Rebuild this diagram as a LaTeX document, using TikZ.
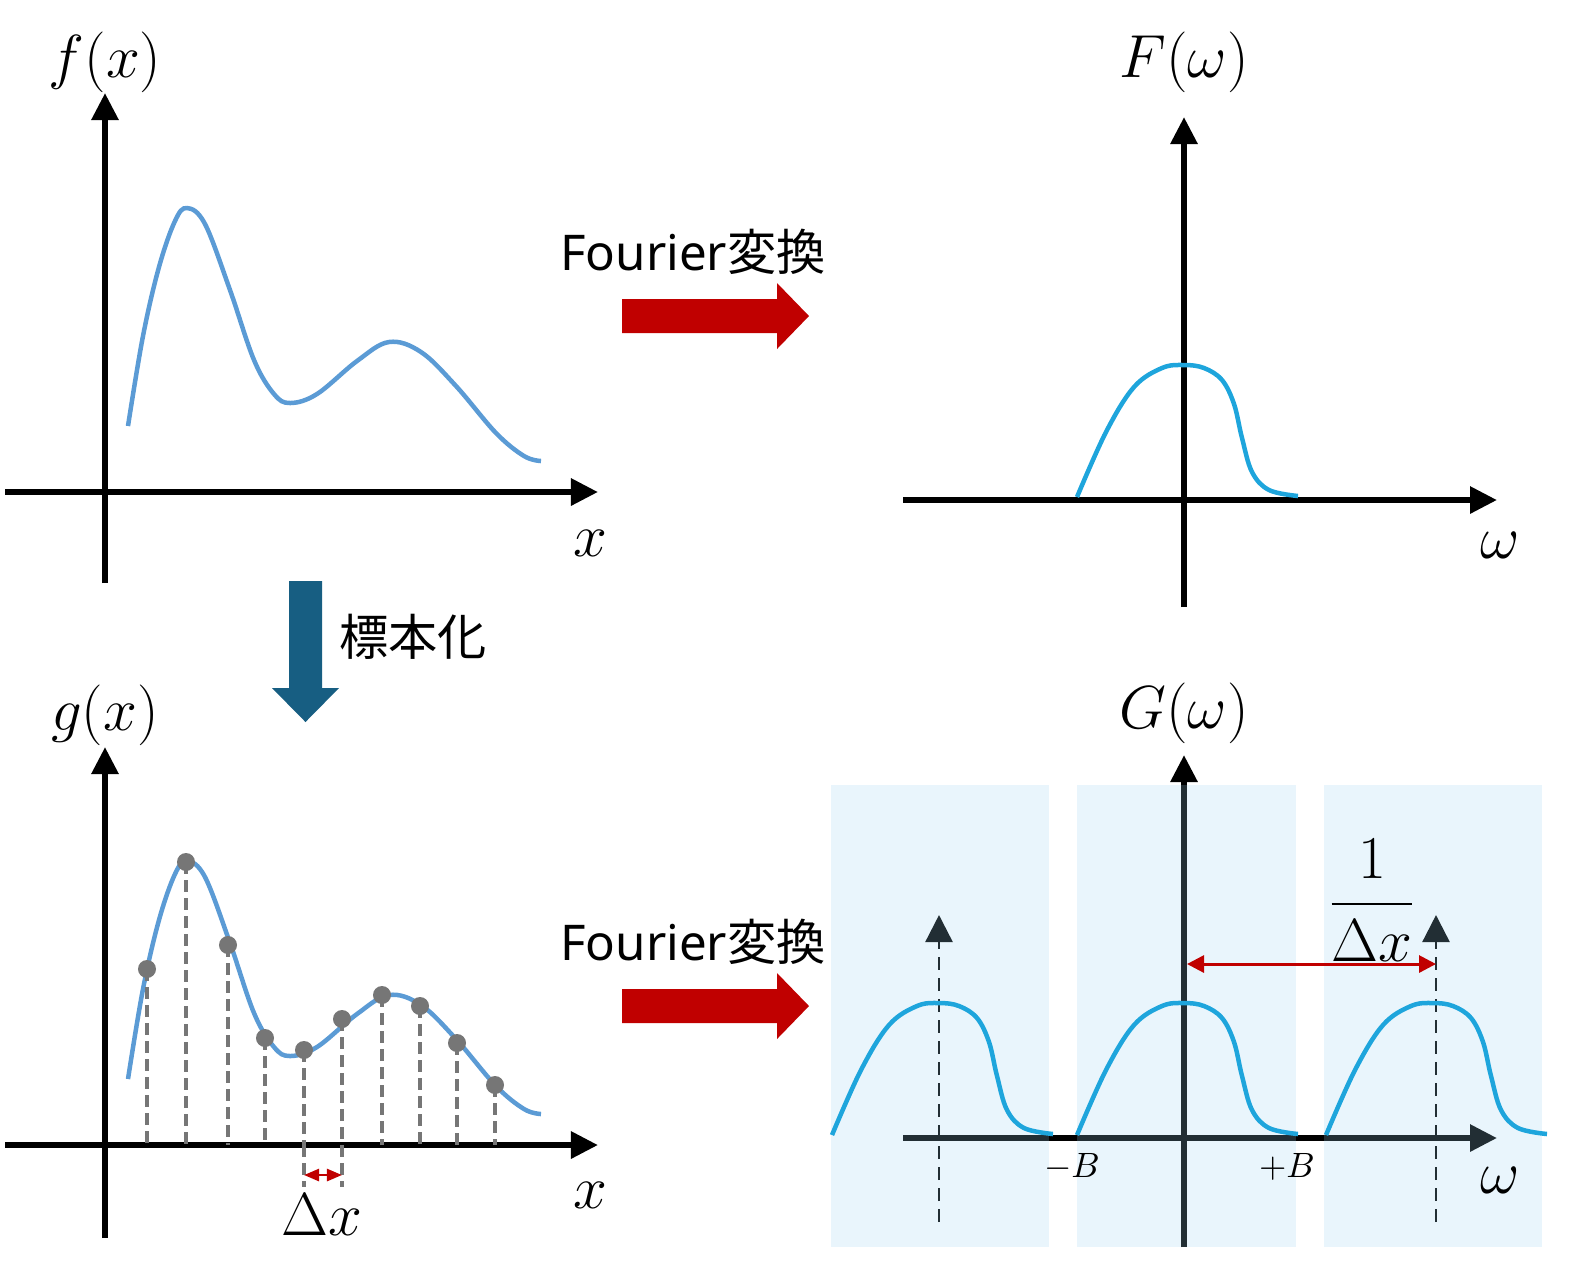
\documentclass[tikz,border=0pt]{standalone}
\usepackage{fontspec}
\usetikzlibrary{arrows.meta}
\newfontfamily\cjk{Noto Sans CJK JP}
\newfontfamily\lat{Noto Sans}
\definecolor{wavecol}{RGB}{91,155,213}
\definecolor{speccol}{RGB}{30,165,220}
\definecolor{sampcol}{RGB}{118,118,118}
\definecolor{redcol}{RGB}{192,0,0}
\definecolor{bluecol}{RGB}{23,94,130}
\definecolor{panelcol}{RGB}{155,210,240}
\newcommand{\signal}[1]{\draw[wavecol,line width=0.45mm,shift={(0,#1)}] plot[smooth,tension=0.6] coordinates {(128,426) (143,336) (159,267) (175,221) (187,208) (205,224) (230,290) (254,360) (274,394) (290,403) (317,394) (357,361) (389,342) (421,352) (456,386) (496,433) (524,456) (541,461)};}
\newcommand{\specbump}[2]{\draw[speccol,line width=0.45mm,shift={(#1,#2)}] plot[smooth,tension=0.6] coordinates {(-107,-3) (-78,-68) (-50,-113) (-22,-132) (0,-135) (20,-132) (38,-120) (50,-96) (58,-62) (68,-28) (85,-10) (114,-4)};}

\begin{document}
\begin{tikzpicture}[x=0.01cm,y=-0.01cm]
 \useasboundingbox (0,0) rectangle (1573,1265);
 \tikzstyle{axis} = [line width=0.6mm,-{Triangle[length=2.7mm,width=2.6mm]}]
 \tikzstyle{lab} = [inner sep=0,font=\fontsize{18}{21}\selectfont]
 \tikzstyle{txt} = [inner sep=0,font=\fontsize{14}{17}\selectfont]
 \tikzstyle{sampline} = [sampcol,line width=0.35mm,dash pattern=on 1.2mm off 0.6mm]
 \tikzstyle{dot} = [circle,fill=sampcol,inner sep=0,minimum size=1.8mm]
 \tikzstyle{dasharrow} = [line width=0.25mm,dash pattern=on 1.3mm off 0.8mm,-{Triangle[length=2.7mm,width=2.7mm]}]
 \tikzstyle{redarrow} = [redcol,line width=0.3mm,{Triangle[length=1.7mm,width=1.7mm]}-{Triangle[length=1.7mm,width=1.7mm]}]
 \tikzstyle{panel} = [fill=panelcol,fill opacity=0.22]

 \coordinate (f0) at (105,583);
 \coordinate (f1) at (105,93);
 \coordinate (x0) at (5,492);
 \coordinate (x1) at (598,492);
 \draw [axis] (f0) to (f1);
 \draw [axis] (x0) to (x1);
 \signal{0}
 \node[lab] (flab) at (105,62) {$f(x)$};
 \node[lab] (xlab) at (590,543) {$x$};

 \coordinate (F0) at (1184,607);
 \coordinate (F1) at (1184,117);
 \coordinate (w0) at (903,500);
 \coordinate (w1) at (1497,500);
 \draw [axis] (F0) to (F1);
 \draw [axis] (w0) to (w1);
 \specbump{1184}{500}
 \node[lab] (Flab) at (1184,62) {$F(\omega)$};
 \node[lab] (wlab) at (1500,545) {$\omega$};

 \fill[redcol] (622,299) -- (777,299) -- (777,283) -- (809,316) -- (777,349) -- (777,333) -- (622,333) -- cycle;
 \node[txt] (four1) at (693,252) {{\lat Fourier}{\cjk 変換}};
 \fill[redcol] (622,989) -- (777,989) -- (777,973) -- (809,1006) -- (777,1039) -- (777,1023) -- (622,1023) -- cycle;
 \node[txt] (four2) at (693,942) {{\lat Fourier}{\cjk 変換}};

 \fill[bluecol] (289,581) -- (322,581) -- (322,688) -- (339,688) -- (305.5,722) -- (272,688) -- (289,688) -- cycle;
 \node[txt] (sampling) at (413,637) {\cjk 標本化};

 \coordinate (g0) at (105,1238);
 \coordinate (g1) at (105,747);
 \coordinate (y0) at (5,1145);
 \coordinate (y1) at (598,1145);
 \draw [axis] (g0) to (g1);
 \draw [axis] (y0) to (y1);
 \signal{653}
 \foreach \n/\x/\y in {1/147/969,2/186/862,3/228/945,4/265/1038,5/304/1050,6/342/1019,7/382/995,8/420/1006,9/457/1043,10/495/1085} {
   \coordinate (s\n) at (\x,\y);
   \draw [sampline] (s\n) to (s\n |- y0);
 }
 \draw [sampline] (s5 |- y0) to ++(0,42);
 \draw [sampline] (s6 |- y0) to ++(0,42);
 \foreach \n in {1,...,10} \node[dot] (d\n) at (s\n) {};
 \coordinate (da) at (304,1175);
 \coordinate (db) at (342,1175);
 \draw [redarrow,line width=0.25mm,{Triangle[length=1.5mm,width=1.2mm]}-{Triangle[length=1.5mm,width=1.2mm]}] (da) to (db);
 \node[lab] (dxlab) at (322,1215) {$\Delta x$};
 \node[lab] (glab) at (105,715) {$g(x)$};
 \node[lab] (xlab2) at (590,1195) {$x$};

 \coordinate (G0) at (1184,1247);
 \coordinate (G1) at (1184,755);
 \coordinate (v0) at (903,1138);
 \coordinate (v1) at (1497,1138);
 \draw [axis] (G0) to (G1);
 \draw [axis] (v0) to (v1);
 \coordinate (la0) at (939,1222);
 \coordinate (la1) at (939,915);
 \coordinate (ra0) at (1436,1222);
 \coordinate (ra1) at (1436,915);
 \draw [dasharrow] (la0) to (la1);
 \draw [dasharrow] (ra0) to (ra1);
 \fill[panel] (831,785) rectangle (1049,1247);
 \fill[panel] (1077,785) rectangle (1296,1247);
 \fill[panel] (1324,785) rectangle (1542,1247);
 \specbump{939}{1138}
 \specbump{1184}{1138}
 \specbump{1433}{1138}
 \coordinate (p0) at (1187,964);
 \coordinate (p1) at (1436,964);
 \draw [redarrow] (p0) to (p1);
 \node[lab,font=\fontsize{16}{19}\selectfont] (frac) at (1372,900) {$\displaystyle\frac{1}{\Delta x}$};
 \node[lab,font=\fontsize{10}{12}\selectfont] (mB) at (1072,1167) {$-B$};
 \node[lab,font=\fontsize{10}{12}\selectfont] (pB) at (1287,1167) {$+B$};
 \node[lab] (Glab) at (1184,713) {$G(\omega)$};
 \node[lab] (wlab2) at (1500,1180) {$\omega$};
\end{tikzpicture}
\end{document}
